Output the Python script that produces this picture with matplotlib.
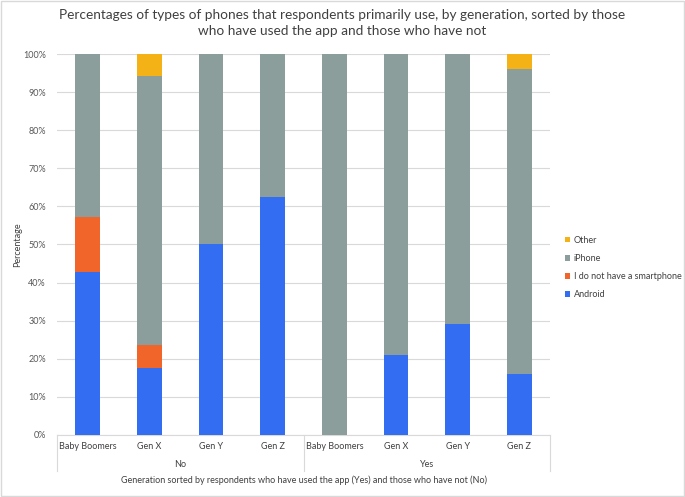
import numpy as np
import matplotlib.pyplot as plt
import matplotlib.transforms as mtransforms

plt.rcParams['font.family'] = ['Lato', 'DejaVu Sans']

generations = ['Baby Boomers', 'Gen X', 'Gen Y', 'Gen Z',
               'Baby Boomers', 'Gen X', 'Gen Y', 'Gen Z']
groups = ['No', 'Yes']

android = [42.9, 17.6, 50.0, 62.5, 0.0, 21.0, 29.1, 16.0]
no_phone = [14.3, 5.9, 0.0, 0.0, 0.0, 0.0, 0.0, 0.0]
iphone = [42.8, 70.6, 50.0, 37.5, 100.0, 79.0, 70.9, 80.0]
other = [0.0, 5.9, 0.0, 0.0, 0.0, 0.0, 0.0, 4.0]

colors = {'Android': '#336df2', 'I do not have a smartphone': '#f2652a',
          'iPhone': '#8c9e9b', 'Other': '#f5b217'}

fig = plt.figure(figsize=(6.85, 4.97), dpi=100)
ax = fig.add_axes([0.0832, 0.1248, 0.72, 0.7665])

x = np.arange(len(generations))
w = 0.4
bottom = np.zeros(len(x))
handles = []
for name, vals in [('Android', android), ('I do not have a smartphone', no_phone),
                   ('iPhone', iphone), ('Other', other)]:
    b = ax.bar(x, vals, w, bottom=bottom, color=colors[name], label=name, zorder=3)
    handles.append(b)
    bottom += np.array(vals)

ax.set_xlim(-0.5, len(x) - 0.5)
ax.set_ylim(0, 100)
ax.set_yticks(np.arange(0, 101, 10))
ax.set_yticklabels([f'{v}%' for v in range(0, 101, 10)], fontsize=6.5, color='#595959')
ax.yaxis.grid(True, color='#d9d9d9', linewidth=0.8, zorder=0)
ax.tick_params(axis='y', length=0, pad=8)
ax.tick_params(axis='x', length=0)
ax.set_xticks([])
for s in ['top', 'right', 'left']:
    ax.spines[s].set_visible(False)
ax.spines['bottom'].set_color('#d9d9d9')

# two-level category axis
trans = mtransforms.blended_transform_factory(ax.transData, ax.transAxes)
for i, g in enumerate(generations):
    ax.text(i, -0.03, g, transform=trans, ha='center', va='center',
            fontsize=6.5, color='#404040')
for j, g in enumerate(groups):
    ax.text(j * 4 + 1.5, -0.077, g, transform=trans, ha='center', va='center',
            fontsize=6.5, color='#404040')
for xv in [-0.5, 3.5, 7.5]:
    ax.plot([xv, xv], [0, -0.095], transform=trans, color='#d9d9d9',
            linewidth=0.8, clip_on=False)

ax.text(0.5, -0.12, 'Generation sorted by respondents who have used the app (Yes) and those who have not (No)',
        transform=ax.transAxes, ha='center', va='center', fontsize=6.5, color='#404040')
ax.set_ylabel('Percentage', fontsize=6.5, color='#404040')
ax.yaxis.set_label_coords(-0.07, 0.5)

fig.suptitle('Percentages of types of phones that respondents primarily use, by generation, sorted by those\n'
             'who have used the app and those who have not',
             y=0.982, fontsize=9.8, color='#404040', linespacing=1.4)

ax.legend(handles[::-1], [h.get_label() for h in handles[::-1]],
          loc='center left', bbox_to_anchor=(1.022, 0.44), frameon=False,
          fontsize=6.5, handlelength=0.6, handleheight=0.6, handletextpad=0.4,
          labelspacing=1.0, labelcolor='#404040', borderaxespad=0)

fig.patches.append(plt.Rectangle((0.002, 0.002), 0.996, 0.996, transform=fig.transFigure,
                                 fill=False, edgecolor='#d9d9d9', linewidth=1))

fig.savefig('out.png', dpi=100)
